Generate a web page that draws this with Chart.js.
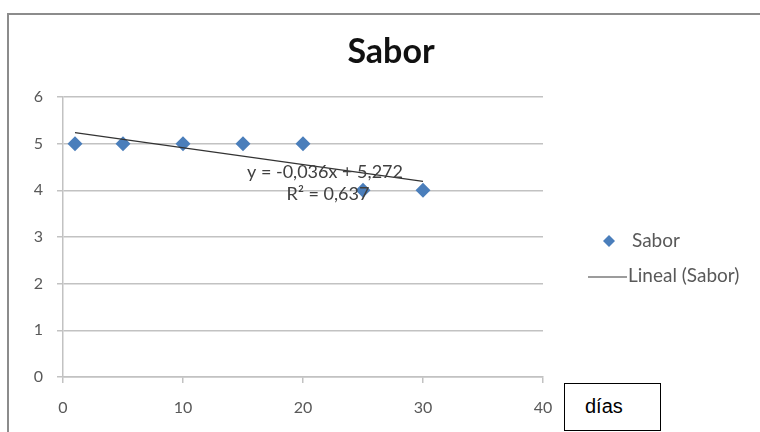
<!DOCTYPE html>
<html>
<head>
<meta charset="utf-8">
<script src="https://cdn.jsdelivr.net/npm/chart.js@4.4.1/dist/chart.umd.min.js"></script>
<style>
  html, body { margin: 0; padding: 0; background: #ffffff; }
  #wrap { position: relative; width: 760px; height: 432px; overflow: hidden; }
  #c { position: absolute; left: 0; top: 0; }
  #dias { position: absolute; left: 564px; top: 383px; width: 97px; height: 48px;
          border: 1.5px solid #000; box-sizing: border-box; background: #fff;
          font-family: "Liberation Sans", Arial, sans-serif; font-size: 20px; color: #000;
          padding-left: 20px; line-height: 45px; }
</style>
</head>
<body>
<div id="wrap">
  <canvas id="c" width="760" height="432"></canvas>
  <div id="dias">días</div>
</div>
<script>
// ---- data ----
const chartTitle = "Sabor";
const days = [1, 5, 10, 15, 20, 25, 30];
const saborValues = [5, 5, 5, 5, 5, 4, 4];
const trendDays = [1, 30];
const trendValues = [5.236, 4.192];
const xTickValues = [0, 10, 20, 30, 40];
const yTickValues = [0, 1, 2, 3, 4, 5, 6];
const equationLines = ["y = -0,036x + 5,272", "R² = 0,637"];
const legendLabels = ["Sabor", "Lineal (Sabor)"];

const BLUE = "#4a7ebb";
const GRID = "#c2c2c2";
const LABEL = "#595959";
const FONT = "Lato, 'Open Sans', sans-serif";

const scatterData = days.map((d, i) => ({ x: d, y: saborValues[i] }));
const trendData = trendDays.map((d, i) => ({ x: d, y: trendValues[i] }));

const decor = {
  id: "decor",
  beforeDraw(chart) {
    const ctx = chart.ctx;
    ctx.save();
    ctx.strokeStyle = "#8c8c8c";
    ctx.lineWidth = 2;
    ctx.beginPath();
    ctx.moveTo(8, 432);
    ctx.lineTo(8, 14);
    ctx.lineTo(760, 14);
    ctx.stroke();
    ctx.restore();
  },
  afterDraw(chart) {
    const ctx = chart.ctx;
    ctx.save();
    // title
    ctx.fillStyle = "#111";
    ctx.font = "bold 34px " + FONT;
    ctx.textAlign = "center";
    ctx.textBaseline = "middle";
    ctx.fillText(chartTitle, 391, 52);
    // trendline equation
    ctx.fillStyle = "#404040";
    ctx.font = "18px " + FONT;
    ctx.fillText(equationLines[0], 325, 172);
    ctx.fillText(equationLines[1], 328, 194);
    // legend
    ctx.textAlign = "left";
    ctx.font = "19px " + FONT;
    ctx.fillStyle = BLUE;
    ctx.beginPath();
    ctx.moveTo(609, 235); ctx.lineTo(615, 241); ctx.lineTo(609, 247); ctx.lineTo(603, 241);
    ctx.closePath(); ctx.fill();
    ctx.fillStyle = LABEL;
    ctx.fillText(legendLabels[0], 632, 241);
    ctx.strokeStyle = "#3a3a3a";
    ctx.lineWidth = 1.2;
    ctx.beginPath(); ctx.moveTo(588, 277); ctx.lineTo(627, 277); ctx.stroke();
    ctx.fillText(legendLabels[1], 628, 276);
    ctx.restore();
  }
};

new Chart(document.getElementById("c"), {
  type: "scatter",
  data: {
    datasets: [
      {
        label: legendLabels[1],
        type: "line",
        data: trendData,
        borderColor: "#333333",
        borderWidth: 1.2,
        pointRadius: 0,
        fill: false,
        order: 1
      },
      {
        label: legendLabels[0],
        data: scatterData,
        pointStyle: "rectRot",
        pointRadius: 7.5,
        pointHoverRadius: 7.5,
        backgroundColor: BLUE,
        borderColor: BLUE,
        borderWidth: 0,
        order: 2
      }
    ]
  },
  options: {
    responsive: false,
    animation: false,
    events: [],
    layout: { padding: { left: 0, top: 97, right: 217, bottom: 0 } },
    plugins: { legend: { display: false }, title: { display: false }, tooltip: { enabled: false } },
    scales: {
      x: {
        type: "linear",
        min: xTickValues[0],
        max: xTickValues[xTickValues.length - 1],
        afterBuildTicks(scale) { scale.ticks = xTickValues.map(v => ({ value: v })); },
        afterFit(scale) { scale.height = 55; },
        grid: { display: true, drawOnChartArea: false, drawTicks: true, tickLength: 6, color: GRID, lineWidth: 1.5 },
        border: { display: true, color: GRID, width: 1.5 },
        ticks: { color: LABEL, font: { family: FONT, size: 16 }, padding: 15, maxRotation: 0 }
      },
      y: {
        type: "linear",
        min: yTickValues[0],
        max: yTickValues[yTickValues.length - 1],
        afterBuildTicks(scale) { scale.ticks = yTickValues.map(v => ({ value: v })); },
        afterFit(scale) { scale.width = 63; },
        grid: { display: true, drawOnChartArea: true, drawTicks: true, tickLength: 6, color: GRID, lineWidth: 1.5 },
        border: { display: true, color: GRID, width: 1.5 },
        ticks: { color: LABEL, font: { family: FONT, size: 16 }, padding: 14 }
      }
    }
  },
  plugins: [decor]
});
</script>
</body>
</html>
